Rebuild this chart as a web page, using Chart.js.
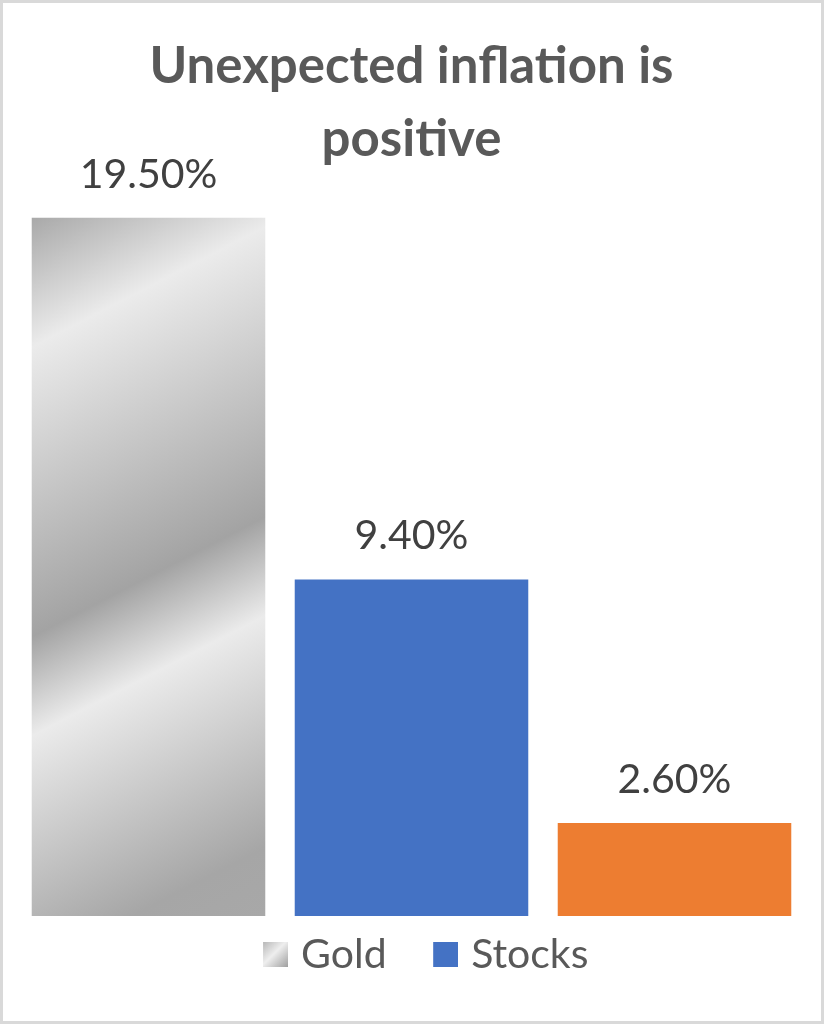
<!DOCTYPE html>
<html>
<head>
<meta charset="utf-8">
<script src="https://cdn.jsdelivr.net/npm/chart.js@4"></script>
<style>
  html, body { margin: 0; padding: 0; background: #ffffff; }
  canvas { display: block; }
</style>
</head>
<body>
<canvas id="c" width="824" height="1024"></canvas>
<script>
const categories = ['Gold', 'Stocks', 'Bonds'];
const goldValues = [19.5, null, null];
const stocksValues = [null, 9.4, null];
const bondsValues = [null, null, 2.6];
const legendNames = ['Gold', 'Stocks'];
const titleLines = ['Unexpected inflation is', 'positive'];

const FONT = 'Lato, "Open Sans", sans-serif';
const BAR_PCT = 0.888;
const LEG_W = 46;     // legend slot width given to Chart.js
const LEG_IMG_W = 61; // image width (box sits at its right edge)
const LEG_BOX = 25;

function goldGradient(ctx) {
  const chart = ctx.chart;
  const area = chart.chartArea;
  if (!area || ctx.raw == null) return '#bdbdbd';
  const xs = chart.scales.x, ys = chart.scales.y;
  const w = (area.right - area.left) / categories.length * BAR_PCT;
  const left = xs.getPixelForValue(ctx.dataIndex) - w / 2;
  const top = ys.getPixelForValue(ctx.raw);
  const h = ys.getPixelForValue(0) - top;
  const dx = 0.458, dy = 0.889;
  const L = dx * w + dy * h;
  const g = chart.ctx.createLinearGradient(left, top, left + dx * L, top + dy * L);
  g.addColorStop(0, '#a9a9a9');
  g.addColorStop(0.158, '#ebebeb');
  g.addColorStop(0.512, '#a3a3a3');
  g.addColorStop(0.633, '#ebebeb');
  g.addColorStop(0.916, '#a6a6a6');
  g.addColorStop(1, '#a8a8a8');
  return g;
}

function legendSwatch(fill) {
  const cv = document.createElement('canvas');
  cv.width = LEG_IMG_W;
  cv.height = LEG_BOX;
  const c = cv.getContext('2d');
  const x0 = LEG_IMG_W - LEG_BOX;
  if (fill === 'gold') {
    const g = c.createLinearGradient(x0, 0, x0 + LEG_BOX, LEG_BOX);
    g.addColorStop(0, '#b8b8b8');
    g.addColorStop(0.45, '#efefef');
    g.addColorStop(1, '#9f9f9f');
    c.fillStyle = g;
  } else {
    c.fillStyle = fill;
  }
  c.fillRect(x0, 0, LEG_BOX, LEG_BOX);
  return cv;
}
const legendSwatches = [legendSwatch('gold'), legendSwatch('#4472c4')];

const frame = {
  id: 'frame',
  beforeDraw(chart) {
    const c = chart.ctx;
    c.save();
    c.fillStyle = '#ffffff';
    c.fillRect(0, 0, chart.width, chart.height);
    c.strokeStyle = '#d9d9d9';
    c.lineWidth = 3;
    c.strokeRect(1.5, 1.5, chart.width - 3, chart.height - 3);
    c.restore();
  }
};

const valueLabels = {
  id: 'valueLabels',
  afterDatasetsDraw(chart) {
    const c = chart.ctx;
    c.save();
    c.font = '41px ' + FONT;
    c.fillStyle = '#404040';
    c.textAlign = 'center';
    c.textBaseline = 'alphabetic';
    chart.data.datasets.forEach((ds, i) => {
      const meta = chart.getDatasetMeta(i);
      meta.data.forEach((el, j) => {
        const v = ds.data[j];
        if (v == null) return;
        c.fillText(v.toFixed(2) + '%', el.x, el.y - 30);
      });
    });
    c.restore();
  }
};

new Chart(document.getElementById('c'), {
  type: 'bar',
  data: {
    labels: categories,
    datasets: [
      { label: legendNames[0], data: goldValues, backgroundColor: goldGradient },
      { label: legendNames[1], data: stocksValues, backgroundColor: '#4472c4' },
      { label: categories[2], data: bondsValues, backgroundColor: '#ed7d31' }
    ]
  },
  options: {
    responsive: false,
    animation: false,
    devicePixelRatio: 1,
    datasets: { bar: { grouped: false, barPercentage: BAR_PCT, categoryPercentage: 1, borderWidth: 0 } },
    layout: { padding: { left: 17, right: 18, top: 0, bottom: 39 } },
    scales: {
      x: { display: false },
      y: { display: false, min: 0, max: 20 }
    },
    plugins: {
      title: {
        display: true,
        text: titleLines,
        color: '#595959',
        font: { family: FONT, size: 51, weight: 'bold', lineHeight: 1.43 },
        padding: { top: 30, bottom: 24 }
      },
      legend: {
        position: 'bottom',
        labels: {
          generateLabels: (chart) => {
            const items = Chart.defaults.plugins.legend.labels.generateLabels(chart)
              .filter(it => it.datasetIndex < legendNames.length);
            items.forEach((it, i) => { it.pointStyle = legendSwatches[i]; });
            return items;
          },
          usePointStyle: true,
          pointStyleWidth: LEG_W,
          boxWidth: LEG_BOX,
          boxHeight: LEG_BOX,
          color: '#595959',
          padding: 18,
          font: { family: FONT, size: 41 }
        }
      },
      tooltip: { enabled: false }
    }
  },
  plugins: [frame, valueLabels]
});
</script>
</body>
</html>
